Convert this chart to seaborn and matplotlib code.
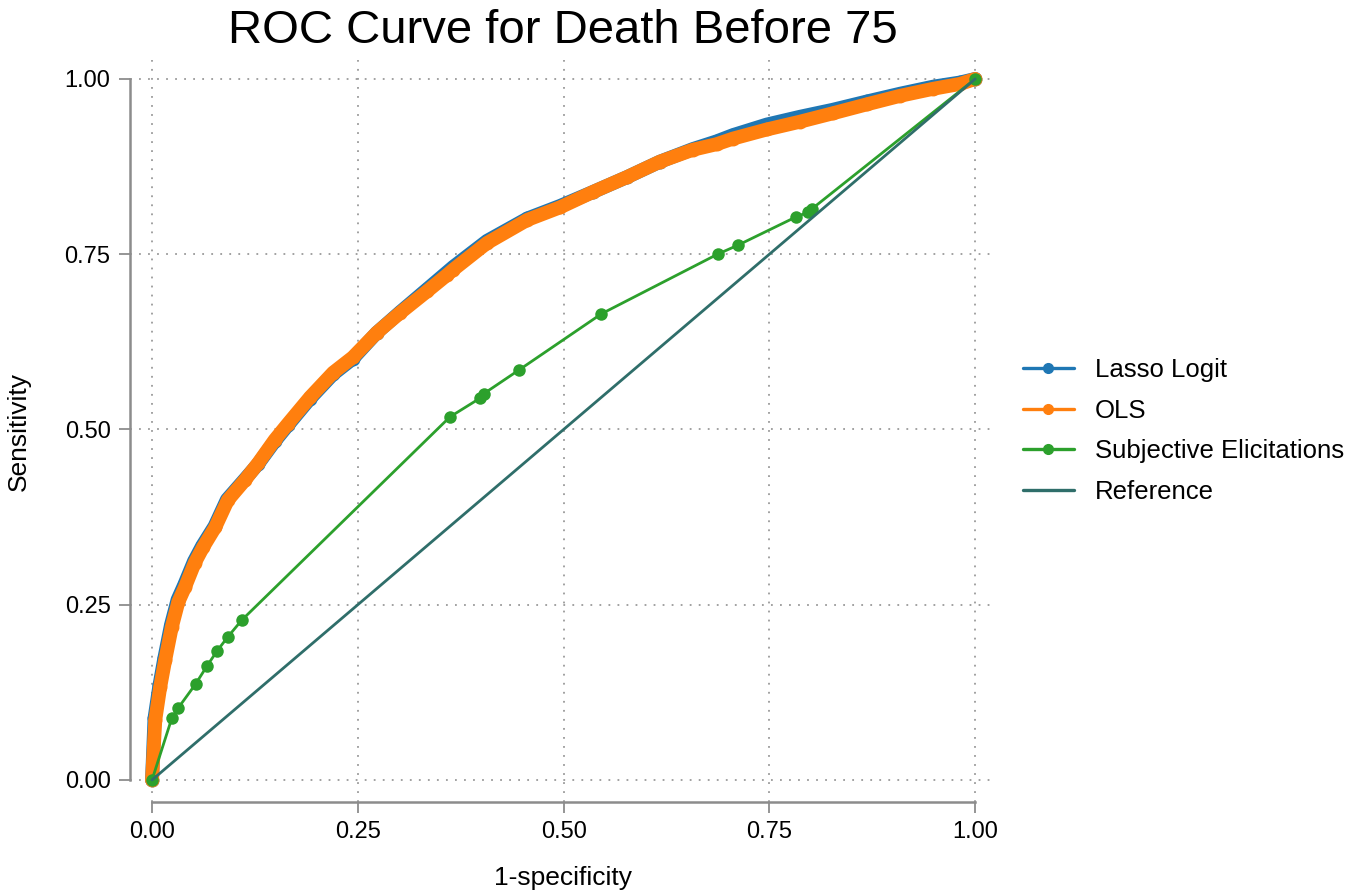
import numpy as np
import pandas as pd
import matplotlib
matplotlib.use("Agg")
import matplotlib.pyplot as plt
from matplotlib.lines import Line2D
import seaborn as sns

# ROC points
ols_fpr = [0.000, 0.004, 0.010, 0.016, 0.024, 0.032, 0.040, 0.052, 0.062, 0.077,
           0.092, 0.113, 0.129, 0.149, 0.165, 0.192, 0.220, 0.244, 0.273, 0.301,
           0.334, 0.358, 0.366, 0.407, 0.456, 0.496, 0.536, 0.577, 0.617, 0.657,
           0.686, 0.706, 0.747, 0.787, 0.827, 0.869, 0.909, 0.949, 0.982, 1.000]
ols_tpr = [0.000, 0.086, 0.133, 0.171, 0.218, 0.254, 0.275, 0.310, 0.332, 0.361,
           0.399, 0.428, 0.452, 0.485, 0.508, 0.546, 0.581, 0.603, 0.638, 0.666,
           0.697, 0.720, 0.728, 0.766, 0.799, 0.817, 0.839, 0.860, 0.882, 0.899,
           0.907, 0.915, 0.928, 0.939, 0.951, 0.964, 0.976, 0.986, 0.993, 1.000]

lasso_fpr = [0.000, 0.003, 0.009, 0.015, 0.023, 0.031, 0.039, 0.051, 0.061, 0.076,
             0.091, 0.112, 0.129, 0.149, 0.165, 0.192, 0.220, 0.244, 0.273, 0.301,
             0.334, 0.366, 0.407, 0.456, 0.496, 0.536, 0.577, 0.617, 0.657, 0.686,
             0.706, 0.747, 0.787, 0.827, 0.869, 0.909, 0.949, 0.982, 1.000]
lasso_tpr = [0.000, 0.088, 0.135, 0.174, 0.221, 0.257, 0.278, 0.312, 0.334, 0.362,
             0.400, 0.428, 0.451, 0.483, 0.506, 0.544, 0.579, 0.601, 0.638, 0.667,
             0.700, 0.732, 0.769, 0.801, 0.819, 0.839, 0.860, 0.882, 0.900, 0.911,
             0.920, 0.935, 0.946, 0.956, 0.968, 0.979, 0.989, 0.995, 1.000]

subj_fpr = [0.000, 0.024, 0.032, 0.053, 0.067, 0.079, 0.092, 0.109, 0.362, 0.399,
            0.403, 0.446, 0.546, 0.687, 0.712, 0.782, 0.797, 0.802, 1.000]
subj_tpr = [0.000, 0.088, 0.103, 0.137, 0.163, 0.184, 0.204, 0.228, 0.518, 0.545,
            0.551, 0.585, 0.665, 0.750, 0.763, 0.803, 0.810, 0.815, 1.000]

ref_x = [0.0, 1.0]
ref_y = [0.0, 1.0]

ticks = [0.0, 0.25, 0.5, 0.75, 1.0]
tick_labels = ["0.00", "0.25", "0.50", "0.75", "1.00"]

BLUE = "#1f77b4"
ORANGE = "#ff7f0e"
GREEN = "#2ca02c"
TEAL = "#2f6e6a"
GREY = "#8c8c8c"

sns.set_theme(style="white")
plt.rcParams["font.family"] = ["Liberation Sans", "DejaVu Sans"]
plt.rcParams["text.color"] = "black"
plt.rcParams["axes.labelcolor"] = "black"

fig = plt.figure(figsize=(13.56, 8.92), dpi=100)
ax = fig.add_axes([0.0959, 0.1009, 0.6380, 0.8318])

# dense curves: thick band under the markers
for fx, fy, col in [(lasso_fpr, lasso_tpr, BLUE), (ols_fpr, ols_tpr, ORANGE)]:
    sns.lineplot(x=fx, y=fy, ax=ax, sort=False, estimator=None, color=col,
                 linewidth=10, solid_capstyle="round", solid_joinstyle="round",
                 marker="o", markersize=10, markeredgewidth=0)

sns.lineplot(x=subj_fpr, y=subj_tpr, ax=ax, sort=False, estimator=None,
             color=GREEN, linewidth=2, marker="o", markersize=9, markeredgewidth=0)
sns.lineplot(x=ref_x, y=ref_y, ax=ax, sort=False, estimator=None,
             color=TEAL, linewidth=2)

ax.set_xlim(-0.0267, 1.0243)
ax.set_ylim(-0.0314, 1.027)
ax.set_xticks(ticks)
ax.set_xticklabels(tick_labels)
ax.set_yticks(ticks)
ax.set_yticklabels(tick_labels)

ax.grid(True, linestyle=(0, (1, 4)), color="#9a9a9a", lw=1.3)
for s in ["top", "right"]:
    ax.spines[s].set_visible(False)
for s in ["left", "bottom"]:
    ax.spines[s].set_color(GREY)
    ax.spines[s].set_linewidth(1.8)
    ax.spines[s].set_bounds(0, 1)
ax.tick_params(axis="both", direction="out", length=8, width=1.3, color=GREY,
               labelsize=17, labelcolor="black", pad=6, left=True, bottom=True)

ax.set_xlabel("1-specificity", fontsize=19, labelpad=16)
ax.set_ylabel("Sensitivity", fontsize=19, labelpad=24)
ax.set_title("ROC Curve for Death Before 75", fontsize=34, pad=12)

handles = [
    Line2D([], [], color=BLUE, lw=2.4, marker="o", markersize=7),
    Line2D([], [], color=ORANGE, lw=2.4, marker="o", markersize=7),
    Line2D([], [], color=GREEN, lw=2.4, marker="o", markersize=7),
    Line2D([], [], color=TEAL, lw=2.4),
]
labels = ["Lasso Logit", "OLS", "Subjective Elicitations", "Reference"]
ax.legend(handles, labels, loc="center left", bbox_to_anchor=(1.005, 0.5),
          frameon=False, fontsize=18.5, handlelength=2.0, handletextpad=0.8,
          labelspacing=0.65)

fig.savefig("out.png", dpi=100)
